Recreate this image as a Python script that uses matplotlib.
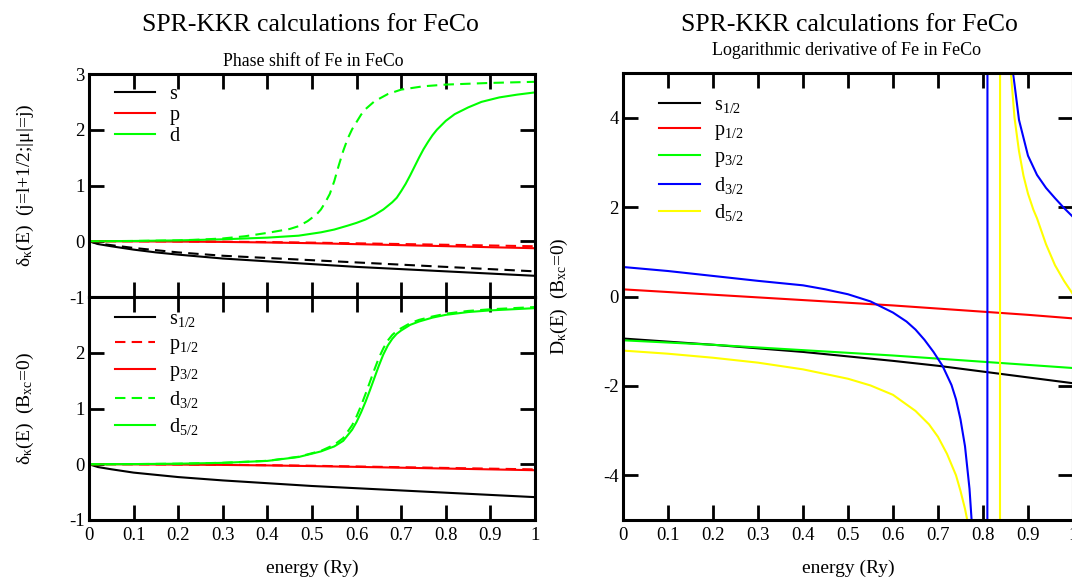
import matplotlib
matplotlib.use("Agg")
import matplotlib.pyplot as plt
from matplotlib.ticker import FuncFormatter, MultipleLocator

plt.rcParams['font.family'] = ['Liberation Serif', 'DejaVu Serif']
plt.rcParams['mathtext.fontset'] = 'custom'
plt.rcParams['mathtext.rm'] = 'Liberation Serif'
plt.rcParams['mathtext.it'] = 'Liberation Serif:italic'
plt.rcParams['axes.unicode_minus'] = False

# ---------------- data: left, top panel ----------------
E_grid = [0, 0.02, 0.05, 0.1, 0.15, 0.2, 0.3, 0.4, 0.5, 0.6, 0.7, 0.8, 0.9, 1.0]
top_s_solid = [0, -0.05, -0.09, -0.15, -0.20, -0.24, -0.31, -0.36, -0.41, -0.46, -0.50, -0.54, -0.58, -0.62]
top_s_dash = [0, -0.04, -0.07, -0.12, -0.16, -0.20, -0.26, -0.30, -0.34, -0.38, -0.42, -0.46, -0.50, -0.54]
top_p_solid = [0, 0, 0, -0.002, -0.004, -0.006, -0.012, -0.022, -0.035, -0.052, -0.07, -0.088, -0.107, -0.125]
top_p_dash = [0, 0, 0, 0, -0.002, -0.004, -0.008, -0.015, -0.025, -0.037, -0.05, -0.063, -0.076, -0.09]

E_top_d_dash = [0, 0.1, 0.2, 0.25, 0.3, 0.35, 0.4, 0.45, 0.47, 0.49, 0.51, 0.52, 0.53, 0.54,
                0.55, 0.56, 0.57, 0.58, 0.59, 0.6, 0.61, 0.62, 0.64, 0.67, 0.7, 0.75, 0.8, 0.9, 1.0]
top_d_dash = [0, 0.005, 0.015, 0.03, 0.05, 0.09, 0.15, 0.22, 0.27, 0.36, 0.48, 0.57, 0.70, 0.85,
              1.08, 1.36, 1.62, 1.84, 2.01, 2.14, 2.27, 2.37, 2.51, 2.64, 2.72, 2.78, 2.81, 2.84, 2.86]

E_top_d_solid = [0, 0.1, 0.2, 0.3, 0.4, 0.47, 0.52, 0.55, 0.58, 0.6, 0.62, 0.64, 0.66, 0.68, 0.69,
                 0.70, 0.71, 0.72, 0.73, 0.74, 0.75, 0.76, 0.77, 0.78, 0.8, 0.82, 0.85, 0.88, 0.92, 0.96, 1.0]
top_d_solid = [0, 0.005, 0.015, 0.035, 0.065, 0.10, 0.16, 0.21, 0.28, 0.33, 0.39, 0.47, 0.57, 0.70, 0.78,
               0.90, 1.03, 1.18, 1.34, 1.50, 1.65, 1.78, 1.90, 2.00, 2.16, 2.28, 2.40, 2.50, 2.58, 2.63, 2.67]

# ---------------- data: left, bottom panel ----------------
bot_s12 = [0, -0.05, -0.09, -0.15, -0.19, -0.23, -0.29, -0.34, -0.39, -0.43, -0.47, -0.51, -0.55, -0.59]
bot_p12 = [0, 0, 0, 0, -0.002, -0.004, -0.009, -0.017, -0.027, -0.040, -0.053, -0.066, -0.079, -0.092]
bot_p32 = [0, 0, 0, -0.002, -0.004, -0.006, -0.012, -0.021, -0.033, -0.047, -0.062, -0.077, -0.092, -0.107]

E_bot_d = [0, 0.1, 0.2, 0.3, 0.4, 0.47, 0.52, 0.55, 0.57, 0.59, 0.6, 0.61, 0.62, 0.63, 0.64, 0.65,
           0.66, 0.67, 0.68, 0.69, 0.7, 0.72, 0.74, 0.77, 0.8, 0.85, 0.9, 0.95, 1.0]
bot_d52 = [0, 0.003, 0.01, 0.025, 0.06, 0.13, 0.23, 0.32, 0.42, 0.62, 0.76, 0.93, 1.12, 1.33, 1.55, 1.77,
           1.97, 2.13, 2.25, 2.34, 2.40, 2.50, 2.56, 2.63, 2.68, 2.73, 2.76, 2.78, 2.80]
bot_d32 = [0, 0.003, 0.01, 0.026, 0.062, 0.135, 0.24, 0.35, 0.47, 0.70, 0.86, 1.05, 1.26, 1.48, 1.70, 1.91,
           2.08, 2.22, 2.32, 2.39, 2.44, 2.53, 2.59, 2.65, 2.70, 2.75, 2.78, 2.80, 2.82]

# ---------------- data: right panel (log. derivative) ----------------
E_r = [0, 0.1, 0.2, 0.3, 0.4, 0.5, 0.6, 0.7, 0.8, 0.9, 1.0]
D_s12 = [-0.94, -1.01, -1.08, -1.16, -1.24, -1.34, -1.44, -1.55, -1.68, -1.81, -1.94]
D_p12 = [0.16, 0.10, 0.04, -0.02, -0.08, -0.14, -0.20, -0.27, -0.34, -0.41, -0.49]
D_p32 = [-0.98, -1.03, -1.08, -1.14, -1.20, -1.26, -1.32, -1.39, -1.46, -1.53, -1.60]

E_d32 = [0, 0.1, 0.2, 0.3, 0.4, 0.45, 0.5, 0.55, 0.6, 0.63, 0.65, 0.67, 0.69, 0.71, 0.73, 0.74, 0.75,
         0.76, 0.77, 0.78, 0.79, 0.8, 0.805, 0.809,
         0.811, 0.815, 0.82, 0.83, 0.84, 0.85, 0.86, 0.87, 0.88, 0.9, 0.92, 0.94, 0.96, 0.98, 1.0]
D_d32 = [0.66, 0.57, 0.46, 0.35, 0.25, 0.16, 0.05, -0.11, -0.36, -0.56, -0.74, -0.97, -1.24, -1.55, -1.98,
         -2.3, -2.75, -3.35, -4.3, -5.8, -8.5, -14, -22, -40,
         60, 30, 18, 10.5, 7.8, 6.3, 5.5, 4.75, 3.95, 3.15, 2.72, 2.43, 2.20, 1.98, 1.78]

E_d52 = [0, 0.1, 0.2, 0.3, 0.4, 0.5, 0.55, 0.6, 0.65, 0.68, 0.7, 0.72, 0.74, 0.75, 0.76, 0.77, 0.78,
         0.8, 0.82, 0.83, 0.837,
         0.839, 0.845, 0.85, 0.855, 0.86, 0.862, 0.87, 0.88, 0.89, 0.9, 0.912, 0.92, 0.94, 0.96, 0.98, 1.0]
D_d52 = [-1.21, -1.28, -1.37, -1.48, -1.63, -1.84, -1.99, -2.2, -2.56, -2.86, -3.14, -3.52, -4.0, -4.35,
         -4.75, -5.25, -5.9, -8, -14, -25, -60,
         80, 20, 12, 8.2, 5.8, 5.0, 4.0, 3.25, 2.7, 2.3, 1.94, 1.75, 1.17, 0.7, 0.35, 0.05]

xticks = [0, 0.1, 0.2, 0.3, 0.4, 0.5, 0.6, 0.7, 0.8, 0.9, 1.0]

BLACK, RED, GREEN, BLUE, YELLOW = '#000000', '#ff0000', '#00ff00', '#0000ff', '#ffff00'
LW = 1.5
DASH = (5, 3)

W, H = 1072, 581
fig = plt.figure(figsize=(W / 100, H / 100), dpi=100)


def ax_rect(x0, y0, x1, y1):
    return [x0 / W, 1 - y1 / H, (x1 - x0) / W, (y1 - y0) / H]


ax_top = fig.add_axes(ax_rect(89, 74, 535, 297))
ax_bot = fig.add_axes(ax_rect(89, 297, 535, 520))
ax_r = fig.add_axes(ax_rect(623, 73, 1073, 520))
for ax in (ax_top, ax_bot, ax_r):
    ax.set_xlim(0, 1)
    ax.set_xticks(xticks)
    ax.xaxis.set_major_formatter(FuncFormatter(lambda v, p: '%g' % round(v, 2)))
    ax.tick_params(direction='in', length=11, width=2, top=True, right=True,
                   labelsize=13.5, pad=3)
    ax.tick_params(axis='x', pad=5)
    for sp in ax.spines.values():
        sp.set_linewidth(2.2)

leg_kw = dict(loc='upper left', frameon=False, fontsize=14.5, handlelength=2.0,
              handletextpad=0.7, borderaxespad=0)

# top panel
ax_top.plot(E_grid, top_s_solid, color=BLACK, lw=LW, label='s')
ax_top.plot(E_grid, top_p_solid, color=RED, lw=LW, label='p')
ax_top.plot(E_top_d_solid, top_d_solid, color=GREEN, lw=LW, label='d')
ax_top.plot(E_grid, top_s_dash, color=BLACK, lw=LW, dashes=DASH)
ax_top.plot(E_grid, top_p_dash, color=RED, lw=LW, dashes=DASH)
ax_top.plot(E_top_d_dash, top_d_dash, color=GREEN, lw=LW, dashes=DASH)
ax_top.set_ylim(-1, 3)
ax_top.set_yticks([-1, 0, 1, 2, 3])
ax_top.tick_params(labelbottom=False)
ax_top.set_ylabel('δ$_\\mathrm{κ}$(E)  (j=l+1/2;|μ|=j)', fontsize=14, labelpad=24)
ax_top.legend(bbox_to_anchor=(0.04, 0.985), labelspacing=0.08, **leg_kw)

# bottom panel
ax_bot.plot(E_grid, bot_s12, color=BLACK, lw=LW, label='s$_{1/2}$')
ax_bot.plot(E_grid, bot_p12, color=RED, lw=LW, dashes=DASH, label='p$_{1/2}$')
ax_bot.plot(E_grid, bot_p32, color=RED, lw=LW, label='p$_{3/2}$')
ax_bot.plot(E_bot_d, bot_d32, color=GREEN, lw=LW, dashes=DASH, label='d$_{3/2}$')
ax_bot.plot(E_bot_d, bot_d52, color=GREEN, lw=LW, label='d$_{5/2}$')
ax_bot.set_ylim(-1, 3)
ax_bot.set_yticks([-1, 0, 1, 2])
ax_bot.set_ylabel('δ$_\\mathrm{κ}$(E)  (B$_\\mathrm{xc}$=0)', fontsize=14, labelpad=24)
ax_bot.set_xlabel('energy (Ry)', fontsize=14, labelpad=11)
ax_bot.legend(bbox_to_anchor=(0.04, 0.98), labelspacing=0.3, **leg_kw)

# right panel
ax_r.plot(E_r, D_s12, color=BLACK, lw=LW, label='s$_{1/2}$')
ax_r.plot(E_r, D_p12, color=RED, lw=LW, label='p$_{1/2}$')
ax_r.plot(E_r, D_p32, color=GREEN, lw=LW, label='p$_{3/2}$')
ax_r.plot(E_d32, D_d32, color=BLUE, lw=LW, label='d$_{3/2}$')
ax_r.plot(E_d52, D_d52, color=YELLOW, lw=LW, label='d$_{5/2}$')
ax_r.set_ylim(-5, 5)
ax_r.yaxis.set_major_locator(MultipleLocator(2))
ax_r.set_ylabel('D$_\\mathrm{κ}$(E)  (B$_\\mathrm{xc}$=0)', fontsize=14, labelpad=24)
ax_r.set_xlabel('energy (Ry)', fontsize=14, labelpad=11)
ax_r.legend(bbox_to_anchor=(0.063, 0.967), labelspacing=0.3, **leg_kw)

# titles
fig.text(310 / W, 1 - 25 / H, 'SPR-KKR calculations for FeCo', fontsize=18.5,
         ha='center', va='center')
fig.text(313 / W, 1 - 62 / H, 'Phase shift of Fe in FeCo', fontsize=12.8,
         ha='center', va='center')
fig.text(849 / W, 1 - 25 / H, 'SPR-KKR calculations for FeCo', fontsize=18.5,
         ha='center', va='center')
fig.text(846 / W, 1 - 50 / H, 'Logarithmic derivative of Fe in FeCo', fontsize=13,
         ha='center', va='center')

fig.savefig('out.png', dpi=100)
